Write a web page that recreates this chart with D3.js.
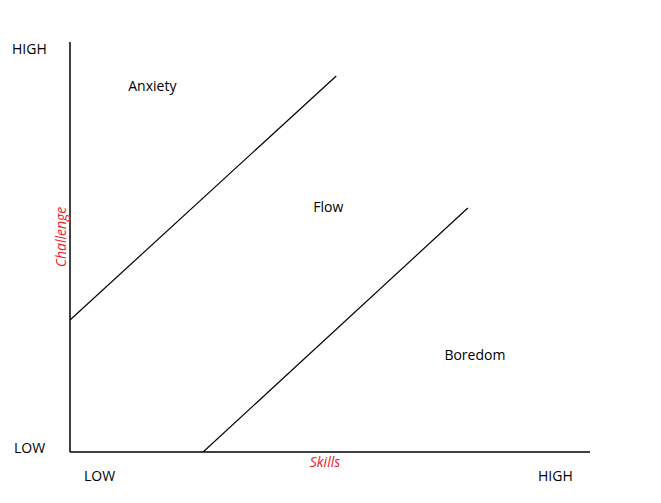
<!DOCTYPE html>
<html><head><meta charset="utf-8">
<script src="https://cdn.jsdelivr.net/npm/d3@7"></script>
<style>body{margin:0;background:#fff}text{font-family:"Open Sans",sans-serif;font-size:14px;fill:#000}</style>
</head><body>
<svg id="c" width="661" height="503"></svg>
<script>
const xLabels = ["LOW","HIGH"];
const yLabels = ["LOW","HIGH"];
const anxietyLine = [[0,3.22],[5.12,9.17]];
const boredomLine = [[2.56,0],[7.65,5.95]];
const regions = [{name:"Anxiety",x:1.12,y:8.8},{name:"Flow",x:4.68,y:5.85},{name:"Boredom",x:7.2,y:2.25}];

const svg = d3.select("#c");
const x = d3.scaleLinear().domain([0,10]).range([70,590]);
const y = d3.scaleLinear().domain([0,10]).range([452,42]);

svg.append("line").attr("x1",x(0)).attr("x2",x(0)).attr("y1",y(0)).attr("y2",y(10)).attr("stroke","#000").attr("stroke-width",1.5);
svg.append("line").attr("x1",x(0)).attr("x2",x(10)).attr("y1",y(0)).attr("y2",y(0)).attr("stroke","#000").attr("stroke-width",1.5);

const line = d3.line().x(d=>x(d[0])).y(d=>y(d[1]));
[anxietyLine,boredomLine].forEach(l=>svg.append("path").attr("d",line(l)).attr("stroke","#000").attr("fill","none").attr("stroke-width",1.2));

svg.selectAll(".r").data(regions).enter().append("text").attr("x",d=>x(d.x)).attr("y",d=>y(d.y)).text(d=>d.name);

svg.append("text").attr("x",12).attr("y",54).text(yLabels[1]);
svg.append("text").attr("x",14).attr("y",453).text(yLabels[0]);
svg.append("text").attr("x",84).attr("y",481).text(xLabels[0]);
svg.append("text").attr("x",538).attr("y",481).text(xLabels[1]);
svg.append("text").attr("x",325).attr("y",467).attr("text-anchor","middle").style("fill","#e8202a").style("font-style","italic").text("Skills");
svg.append("text").attr("transform","translate(66,237) rotate(-90)").attr("text-anchor","middle").style("fill","#e8202a").style("font-style","italic").text("Challenge");
</script>
</body></html>
